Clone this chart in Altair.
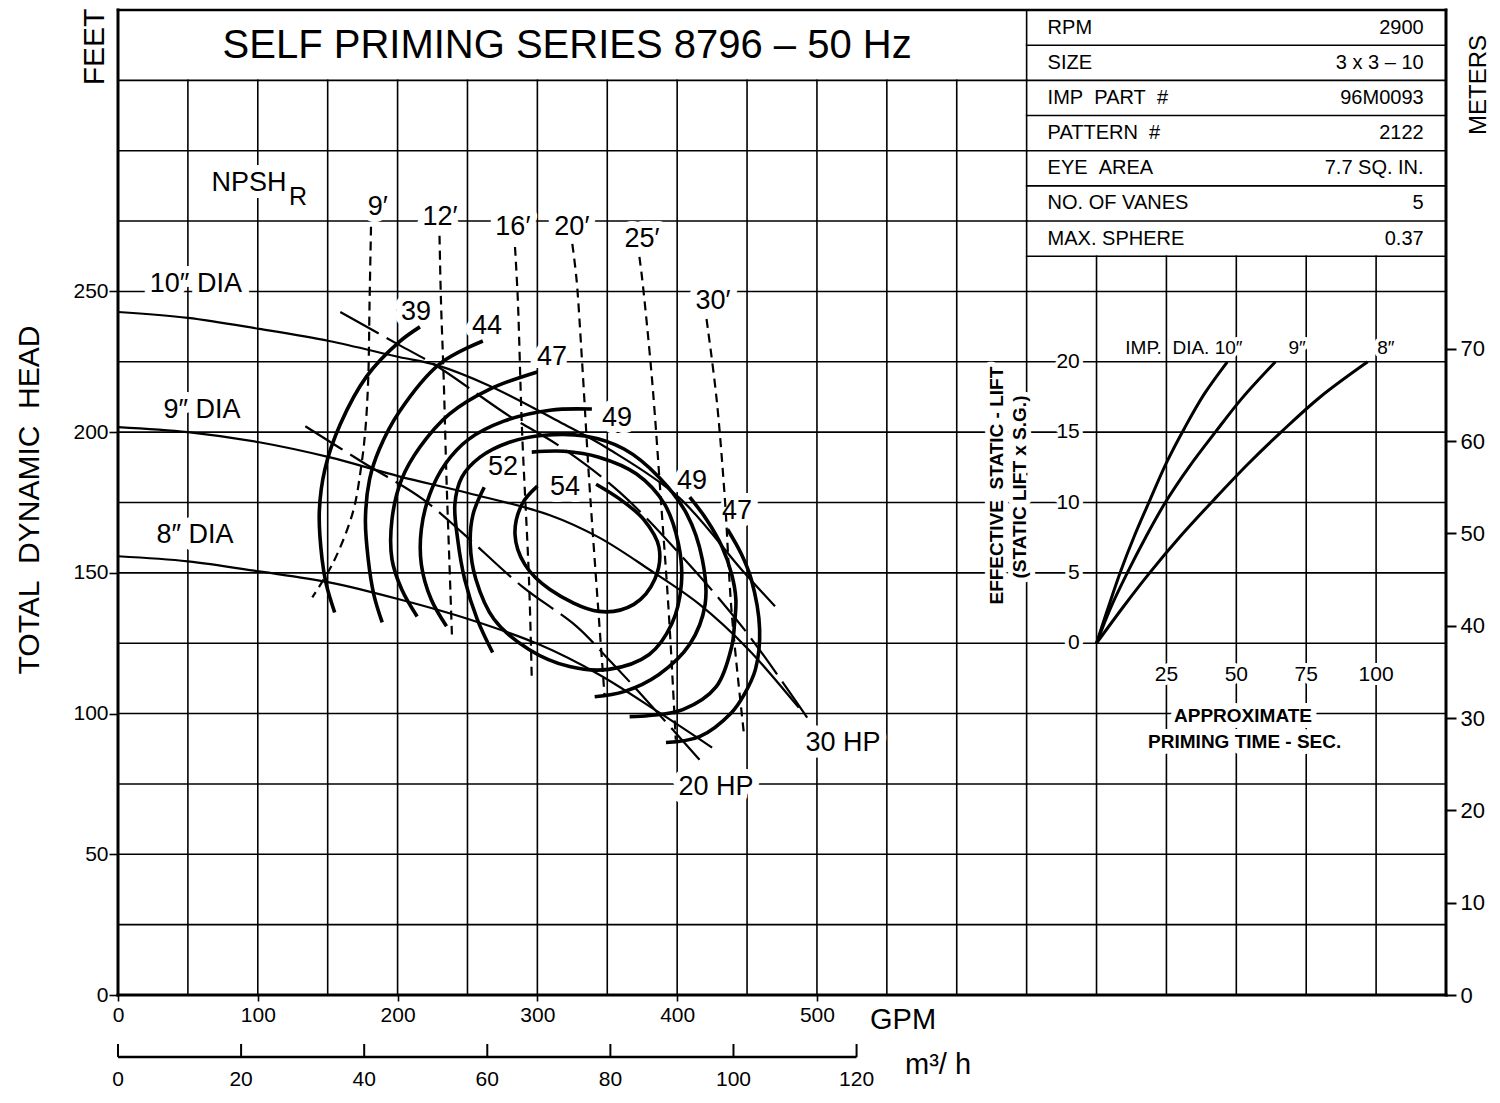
import altair as alt
import pandas as pd

FONT = "Liberation Sans"
W, H = 1328, 985
XMAX, YMAX = 950, 350

# ---------------- axis ticks ----------------
gpm_ticks = [0, 100, 200, 300, 400, 500]
ft_ticks = [0, 50, 100, 150, 200, 250]
m_ticks = [0, 10, 20, 30, 40, 50, 60, 70]
m3h_ticks = [0, 20, 40, 60, 80, 100, 120]
lift_ticks = [0, 5, 10, 15, 20]
sec_ticks = [25, 50, 75, 100]

# ---------------- head-capacity curves (GPM, ft) ----------------
dia10_gpm = [0, 50, 101, 151, 201, 228, 266, 316, 351, 401, 446, 470]
dia10_ft = [242.7, 240.6, 236.7, 232.4, 226.7, 223.8, 216.4, 203.6, 194.0, 176.9, 151.2, 138.1]
dia9_gpm = [0, 50, 101, 151, 201, 251, 309, 344, 380, 416, 451, 487]
dia9_ft = [201.8, 200.0, 196.4, 191.1, 184.3, 178.3, 170.5, 162.6, 151.2, 138.8, 122.8, 102.1]
dia8_gpm = [0, 50, 101, 151, 201, 251, 301, 344, 387, 425]
dia8_ft = [155.9, 154.1, 150.5, 146.6, 140.6, 133.5, 124.6, 113.9, 100.4, 87.9]

# ---------------- power lines ----------------
hp30_gpm = [159, 201, 228, 280, 316, 359, 404, 448, 493]
hp30_ft = [242.7, 231.0, 223.5, 205.7, 195.0, 178.6, 155.5, 129.9, 98.6]
hp20_gpm = [134, 175, 218, 246, 289, 328, 349, 373, 416]
hp20_ft = [202.1, 189.3, 176.2, 164.4, 145.2, 131.0, 120.3, 107.5, 83.6]

# ---------------- efficiency contours ----------------
eff39_gpm = [216, 201, 178, 159, 148, 144, 146, 149, 155]
eff39_ft = [237.4, 232.0, 219.9, 202.8, 186.8, 171.5, 154.8, 145.9, 135.9]
eff44_gpm = [261, 230, 201, 187, 180, 177, 179, 183, 189]
eff44_ft = [232.4, 224.2, 207.1, 194.0, 183.3, 169.0, 154.8, 142.3, 132.4]
eff47a_gpm = [300, 266, 237, 216, 203, 196, 196, 203, 214]
eff47a_ft = [221.4, 215.3, 206.4, 194.7, 183.3, 169.0, 154.8, 144.1, 134.5]
eff49a_gpm = [339, 309, 276, 251, 234, 223, 217, 217, 224, 235]
eff49a_ft = [208.2, 207.8, 203.9, 197.5, 188.6, 177.9, 165.5, 153.0, 140.6, 131.0]
effloop_gpm = [268, 257, 248, 243, 241, 246, 259, 280, 305, 334, 362, 387, 407, 418, 420, 409, 387, 362, 341]
effloop_ft = [121.7, 133.5, 147.7, 161.9, 174.4, 184.0, 191.1, 196.4, 198.9, 198.6, 194.0, 184.0, 170.8, 154.8, 138.8, 124.6, 113.9, 107.8, 106.0]
eff52_gpm = [262, 254, 252, 256, 269, 294, 323, 351, 380, 396, 403, 401, 391, 371, 344, 319, 296]
eff52_ft = [180.4, 170.8, 160.1, 147.7, 133.5, 122.8, 116.7, 115.7, 121.0, 131.7, 145.9, 160.1, 174.4, 185.1, 191.1, 193.2, 192.9]
eff54_gpm = [300, 289, 284, 291, 309, 344, 369, 384, 387, 376, 359, 342]
eff54_ft = [180.8, 174.4, 163.7, 153.0, 144.1, 136.3, 138.8, 147.7, 159.1, 169.0, 176.2, 181.5]
eff49b_gpm = [409, 421, 432, 439, 442, 441, 439, 428, 404, 380, 366]
eff49b_ft = [176.9, 169.0, 159.4, 149.5, 140.6, 131.7, 123.8, 109.6, 101.4, 99.3, 98.9]
eff47b_gpm = [436, 446, 453, 459, 456, 448, 439, 416, 392]
eff47b_ft = [165.5, 156.6, 147.7, 129.9, 115.7, 106.8, 100.4, 91.8, 89.7]

# ---------------- NPSH required lines ----------------
n9_gpm = [181, 180, 179, 177, 174, 168, 154, 139]
n9_ft = [273.0, 247.3, 218.9, 201.1, 187.9, 171.5, 153.7, 141.3]
n12_gpm = [230, 231, 233, 235, 237, 239]
n12_ft = [269.8, 247.3, 218.9, 183.3, 154.8, 126.3]
n16_gpm = [284, 286, 289, 294, 296]
n16_ft = [265.8, 247.3, 201.1, 147.7, 112.1]
n20_gpm = [325, 328, 332, 337, 342, 348]
n20_ft = [266.9, 254.4, 224.9, 183.3, 147.7, 106.8]
n25_gpm = [373, 375, 382, 389, 394, 399]
n25_ft = [262.3, 254.4, 218.9, 171.5, 135.9, 90.7]
n30_gpm = [421, 428, 434, 439, 448]
n30_ft = [240.2, 212.8, 177.2, 135.9, 91.8]

# ---------------- priming time inset (sec, lift ft) ----------------
p10_sec = [0, 3.7, 8.6, 13.5, 18.5, 25.2, 31.5, 38.5, 46.8]
p10_lift = [0, 2.25, 5.1, 7.6, 9.9, 12.9, 15.3, 17.7, 20]
p9_sec = [0, 5, 11, 17.5, 24.6, 33, 42.5, 52, 64]
p9_lift = [0, 2.5, 5, 7.5, 10, 12.5, 15, 17.4, 20]
p8_sec = [0, 10, 19, 30, 42, 54, 66, 80, 97]
p8_lift = [0, 2.7, 5, 7.6, 10.2, 12.7, 15, 17.5, 20]

# ---------------- table ----------------
table_labels = ["RPM", "SIZE", "IMP\u00a0\u00a0PART\u00a0\u00a0#", "PATTERN\u00a0\u00a0#",
                "EYE\u00a0\u00a0AREA", "NO. OF VANES", "MAX. SPHERE"]
table_values = ["2900", "3 x 3 \u2013 10", "96M0093", "2122", "7.7 SQ. IN.", "5", "0.37"]

# ---------------- scales & axes ----------------
xs = alt.Scale(domain=[0, XMAX], nice=False, zero=False)
ys = alt.Scale(domain=[0, YMAX], nice=False, zero=False)
X_AXIS = alt.Axis(values=gpm_ticks, orient="bottom", domain=False, grid=False, tickSize=6,
                  tickWidth=1.6, tickColor="black", labelFont=FONT, labelFontSize=21,
                  labelColor="black", labelPadding=3, labelFlush=False, labelOverlap=False,
                  title=None)
Y_AXIS = alt.Axis(values=ft_ticks, orient="left", domain=False, grid=False, tickSize=9,
                  tickWidth=1.6, tickColor="black", labelFont=FONT, labelFontSize=21,
                  labelColor="black", labelPadding=1, labelFlush=False, labelOverlap=False,
                  title=None)


def XE(f="x"):
    return alt.X(f, type="quantitative", scale=xs, axis=X_AXIS)


def YE(f="y"):
    return alt.Y(f, type="quantitative", scale=ys, axis=Y_AXIS)


def curves_df(d, xk="x", yk="y"):
    rows = []
    for name, (gx, gy) in d.items():
        for i, (a, b) in enumerate(zip(gx, gy)):
            rows.append({"curve": name, "i": i, xk: a, yk: b})
    return pd.DataFrame(rows)


def line_layer(df, width, dash=None):
    kw = dict(color="black", strokeWidth=width, interpolate="catmull-rom", strokeCap="butt")
    if dash:
        kw["strokeDash"] = dash
    return alt.Chart(df).mark_line(**kw).encode(x=XE(), y=YE(), detail="curve:N", order="i:Q")


halos, texts = [], []


def add_text(rows, size, bold=False, align="center", angle=None, halo=14, baseline="middle"):
    df = pd.DataFrame(rows, columns=["t", "x", "y"])
    kw = dict(font=FONT, fontSize=size, align=align, baseline=baseline,
              fontWeight="bold" if bold else "normal")
    if angle is not None:
        kw["angle"] = angle
    enc = dict(x=XE(), y=YE(), text="t:N")
    if halo:
        halos.append(alt.Chart(df).mark_text(fill="white", stroke="white", strokeWidth=halo,
                                             strokeJoin="round", **kw).encode(**enc))
    texts.append(alt.Chart(df).mark_text(fill="black", **kw).encode(**enc))


# ---------------- grid (from tick spacing) ----------------
grid_rows = []


def seg(x, x2, y, y2, w):
    grid_rows.append(dict(x=x, x2=x2, y=y, y2=y2, w=w))


for g in range(50, XMAX, 50):
    top = 325 if g < 650 else (YMAX if g == 650 else 262.5)
    seg(g, g, 0, top, 1.6)
for h in range(25, YMAX, 25):
    seg(0, XMAX if h <= 250 else 650, h, h, 1.6)
for k in range(7):
    r = 262.5 + 12.5 * k
    seg(650, XMAX, r, r, 1.6)
seg(0, 0, 0, YMAX, 3)
seg(XMAX, XMAX, 0, YMAX, 3)
seg(0, XMAX, 0, 0, 3)
seg(0, XMAX, YMAX, YMAX, 2.4)
grid = alt.Chart(pd.DataFrame(grid_rows)).mark_rule(color="black", strokeCap="square").encode(
    x=XE("x"), x2="x2:Q", y=YE("y"), y2="y2:Q",
    strokeWidth=alt.StrokeWidth("w:Q", scale=None))

# ---------------- curves ----------------
heads = line_layer(curves_df({"10": (dia10_gpm, dia10_ft), "9": (dia9_gpm, dia9_ft),
                              "8": (dia8_gpm, dia8_ft)}), 2.2)
power = line_layer(curves_df({"30hp": (hp30_gpm, hp30_ft), "20hp": (hp20_gpm, hp20_ft)}), 2.2, [44, 9])
npsh = line_layer(curves_df({"9": (n9_gpm, n9_ft), "12": (n12_gpm, n12_ft), "16": (n16_gpm, n16_ft),
                             "20": (n20_gpm, n20_ft), "25": (n25_gpm, n25_ft), "30": (n30_gpm, n30_ft)}),
                  2.2, [9, 6])
eff = line_layer(curves_df({
    "39": (eff39_gpm, eff39_ft), "44": (eff44_gpm, eff44_ft), "47a": (eff47a_gpm, eff47a_ft),
    "49a": (eff49a_gpm, eff49a_ft), "loop": (effloop_gpm, effloop_ft), "52": (eff52_gpm, eff52_ft),
    "54": (eff54_gpm, eff54_ft), "49b": (eff49b_gpm, eff49b_ft), "47b": (eff47b_gpm, eff47b_ft)}), 3.6)

prime_df = curves_df({"10": (p10_sec, p10_lift), "9": (p9_sec, p9_lift), "8": (p8_sec, p8_lift)},
                     "sec", "lift")
prime = alt.Chart(prime_df).transform_calculate(
    x="700 + 2*datum.sec", y="125 + 5*datum.lift").mark_line(
    color="black", strokeWidth=3, interpolate="catmull-rom").encode(
    x=XE(), y=YE(), detail="curve:N", order="i:Q")

# ---------------- labels ----------------
add_text([("10\u2033 DIA", 55.7, 252.5), ("9\u2033 DIA", 60.1, 208.0), ("8\u2033 DIA", 55.1, 163.6),
          ("39", 213.2, 242.7), ("44", 263.9, 237.7), ("47", 310.4, 226.7), ("49", 356.9, 205.0),
          ("52", 275.4, 187.6), ("54", 319.7, 180.5), ("49", 410.6, 182.6), ("47", 442.8, 172.0),
          ("9\u2032", 185.9, 279.9), ("12\u2032", 230.3, 276.3), ("16\u2032", 282.5, 272.8),
          ("20\u2032", 324.7, 272.8), ("25\u2032", 374.9, 268.5), ("30\u2032", 425.7, 246.5),
          ("30 HP", 518.6, 89.5), ("20 HP", 427.8, 74.0), ("NPSH", 93.7, 288.6)], 27)
add_text([("R", 128.8, 283.6)], 25)
add_text([("SELF PRIMING SERIES 8796 \u2013 50 Hz", 321.3, 337.2)], 40, halo=0)
add_text([(t, 665, 343.75 - 12.5 * i) for i, t in enumerate(table_labels)], 20, align="left", halo=0)
add_text([(t, 934, 343.75 - 12.5 * i) for i, t in enumerate(table_values)], 20, align="right", halo=0)

# inset texts
add_text([(str(v), 688, 125 + 5 * v) for v in lift_ticks], 21, align="right", halo=8)
add_text([(str(v), 700 + 2 * v, 113.6) for v in sec_ticks], 21, halo=8)
add_text([("IMP.\u00a0\u00a0DIA. 10\u2033", 762.5, 229.9), ("9\u2033", 843.5, 229.9),
          ("8\u2033", 907.0, 229.9)], 19, halo=8)
add_text([("EFFECTIVE\u00a0\u00a0STATIC - LIFT", 628.5, 181.0),
          ("(STATIC LIFT x S.G.)", 645.5, 180.5)], 19, bold=True, angle=270, halo=10)
add_text([("APPROXIMATE", 804.8, 99.1), ("PRIMING TIME - SEC.", 806.0, 89.9)], 19, bold=True, halo=12)

# m3/h scale under the GPM axis
m3_df = pd.DataFrame({"q": m3h_ticks})
m3_line = alt.Chart(pd.DataFrame({"q0": [min(m3h_ticks)], "q1": [max(m3h_ticks)]})).transform_calculate(
    x="datum.q0*4.40287", x2="datum.q1*4.40287").mark_rule(color="black", strokeWidth=2.5).encode(
    x=XE(), x2="x2:Q", y=alt.value(1047))
m3_ticks = alt.Chart(m3_df).transform_calculate(x="datum.q*4.40287").mark_rule(
    color="black", strokeWidth=2).encode(x=XE(), y=alt.value(1034), y2=alt.value(1047))
m3_labels = alt.Chart(m3_df).transform_calculate(x="datum.q*4.40287").mark_text(
    font=FONT, fontSize=21, baseline="middle").encode(x=XE(), y=alt.value(1070), text="q:N")


# outside annotations (pixel positions relative to plot area)
def ptext(t, px, py, size, angle=None, align="center"):
    kw = dict(font=FONT, fontSize=size, align=align, baseline="middle", fill="black")
    if angle is not None:
        kw["angle"] = angle
    return alt.Chart(pd.DataFrame({"t": [t]})).mark_text(**kw).encode(
        x=alt.value(px), y=alt.value(py), text="t:N")


outside = [
    ptext("FEET", -23, 37, 30, angle=270),
    ptext("METERS", 1361, 75, 24, angle=270),
    ptext("TOTAL\u00a0\u00a0DYNAMIC\u00a0\u00a0HEAD", -88, 490, 30, angle=270),
    ptext("GPM", 752, 1010, 29, align="left"),
    ptext("m\u00b3/ h", 787, 1055, 29, align="left"),
]

inner = alt.layer(grid, *halos, heads, power, npsh, eff, prime, *texts,
                  m3_line, m3_ticks, m3_labels, *outside)

meters = alt.Chart(pd.DataFrame({"m": m_ticks})).mark_point(opacity=0).encode(
    y=alt.Y("m:Q", scale=alt.Scale(domain=[0, YMAX * 0.3048], nice=False, zero=False),
            axis=alt.Axis(values=m_ticks, orient="right", domain=False, grid=False, tickSize=10,
                          tickWidth=2, tickColor="black", labelFont=FONT, labelFontSize=22,
                          labelColor="black", labelPadding=4, labelFlush=False,
                          labelOverlap=False, title=None)))

chart = alt.layer(inner, meters).resolve_scale(y="independent").properties(
    width=W, height=H,
    padding={"left": 110, "top": 2, "right": 45, "bottom": 100},
    autosize=alt.AutoSizeParams(type="none"),
    background="white",
).configure_view(stroke=None)

chart.save("out.html", embed_options={"renderer": "svg", "actions": False})
